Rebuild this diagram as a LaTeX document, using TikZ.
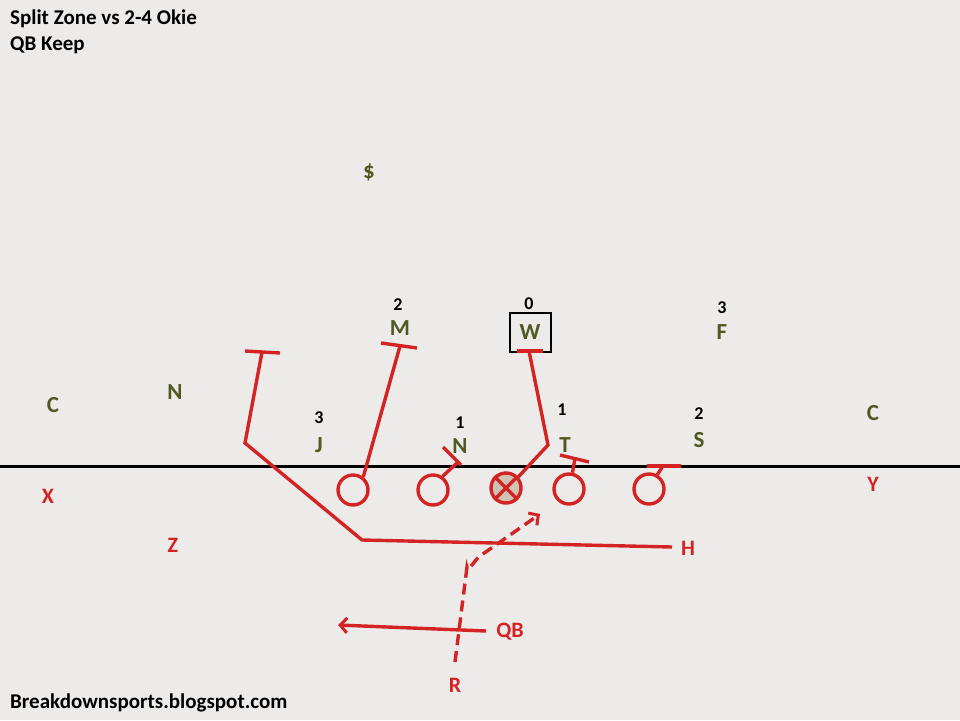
\documentclass[tikz,border=0pt]{standalone}
\usepackage{fontspec}
\setmainfont{Carlito}
\usetikzlibrary{arrows.meta}
\definecolor{bg}{HTML}{EDEBE9}
\definecolor{offr}{HTML}{D42323}
\definecolor{defo}{HTML}{4F5A22}
\definecolor{cfill}{HTML}{CFC3B6}
\tikzset{
  ttl/.style={anchor=west,inner sep=0pt,font=\bfseries\fontsize{21}{21}\selectfont,text=black},
  num/.style={inner sep=0pt,font=\bfseries\fontsize{18}{18}\selectfont,text=black},
  dpos/.style={inner sep=0pt,font=\bfseries\fontsize{23}{23}\selectfont,text=defo},
  opos/.style={inner sep=0pt,font=\bfseries\fontsize{22}{22}\selectfont,text=offr},
  lman/.style={circle,draw=offr,line width=3.4pt,minimum size=30pt,inner sep=0pt},
  route/.style={draw=offr,line width=3.4pt},
  barb/.style={-{Straight Barb[length=7pt,width=15pt,line width=3pt]}},
}
\begin{document}
\begin{tikzpicture}[x=1pt,y=-1pt]
\fill[bg] (0,0) rectangle (960,720);
\useasboundingbox (0,0) rectangle (960,720);
% titles
\node[ttl] (t1) at (10,19) {Split Zone vs 2-4 Okie};
\node[ttl] (t2) at (10,45) {QB Keep};
\node[ttl] (ft) at (10,703) {Breakdownsports.blogspot.com};
% line of scrimmage
\coordinate (los1) at (0,466);
\coordinate (los2) at (960,466);
\draw[line width=3pt,black] (los1) -- (los2);
% defense
\node[dpos] (dol) at (369,172) {\$};
\node[num] (n2m) at (398,305) {2};
\node[dpos] (M) at (400,328) {M};
\node[num] (n0w) at (529,304) {0};
\node[dpos,draw=black,text=defo,line width=2pt,minimum width=41pt,minimum height=39pt] (W) at (530,332.5) {W};
\node[num] (n3f) at (722,308) {3};
\node[dpos] (F) at (722,332) {F};
\node[dpos] (CL) at (53,405) {C};
\node[dpos] (NL) at (175,392) {N};
\node[num] (n3j) at (319,418) {3};
\node[dpos] (J) at (319,445) {J};
\node[num] (n1n) at (460,423) {1};
\node[dpos] (N) at (460,446) {N};
\node[num] (n1t) at (562,410) {1};
\node[dpos] (T) at (565,445) {T};
\node[num] (n2s) at (699,414) {2};
\node[dpos] (S) at (699,440) {S};
\node[dpos] (CR) at (873,413) {C};
% offense
\node[lman] (lt) at (353,490) {};
\node[lman] (lg) at (433,490) {};
\node[lman,fill=cfill] (cc) at (506,488) {};
\draw[offr,line width=3.4pt] (cc.45) -- (cc.225) (cc.135) -- (cc.315);
\node[lman] (rg) at (569,489) {};
\node[lman] (rt) at (649,489) {};
\node[opos] (X) at (48,496) {X};
\node[opos] (Y) at (873,484) {Y};
\node[opos] (Z) at (173,545) {Z};
\node[opos] (H) at (688,548) {H};
\node[opos] (QB) at (510,632) {QB};
\node[opos] (R) at (455,685) {R};
% H route
\coordinate (h1) at (245,351);
\coordinate (h2) at (280,353);
\coordinate (h3) at (262,352);
\coordinate (h4) at (245,443);
\coordinate (h5) at (362,540);
\coordinate (h6) at (672,547);
\draw[route,line cap=butt] (h1) -- (h2);
\draw[route,line join=miter] (h3) -- (h4) -- (h5) -- (h6);
% LT block on M
\coordinate (m1) at (400,346);
\coordinate (m2) at (381,343);
\coordinate (m3) at (417,348);
\draw[route] (lt.52) -- (m1);
\draw[route] (m2) -- (m3);
% LG block
\coordinate (g1) at (457,463);
\coordinate (g2) at (443,447);
\coordinate (g3) at (461,465);
\draw[route] (lg.55) -- (g1);
\draw[route] (g2) -- (g3);
% C combo to W
\coordinate (c1) at (548,445);
\coordinate (c2) at (529,351);
\coordinate (c3) at (517,351);
\coordinate (c4) at (543,351);
\draw[route,line join=miter] (cc.42) -- (c1) -- (c2);
\draw[route] (c3) -- (c4);
% RG block
\coordinate (r1) at (575,458);
\coordinate (r2) at (560,455);
\coordinate (r3) at (589,462);
\draw[route] (rg.78) -- (r1);
\draw[route] (r2) -- (r3);
% RT block
\coordinate (s1) at (663,466);
\coordinate (s2) at (647,466);
\coordinate (s3) at (681,466);
\draw[route] (rt.60) -- (s1);
\draw[route] (s2) -- (s3);
% QB keep
\coordinate (qbend) at (338,625);
\draw[route,barb] (QB.west) ++(-10,-1) coordinate (qbs) -- (qbend);
% R dashed path
\coordinate (ra) at (455,662);
\coordinate (rb) at (467,567);
\coordinate (rc) at (480,556);
\coordinate (rd) at (540,514);
\draw[route,barb,dash pattern=on 11pt off 6pt] (ra) -- (rb) to[out=-85,in=-145] (rc) -- (rd);
\end{tikzpicture}
\end{document}
